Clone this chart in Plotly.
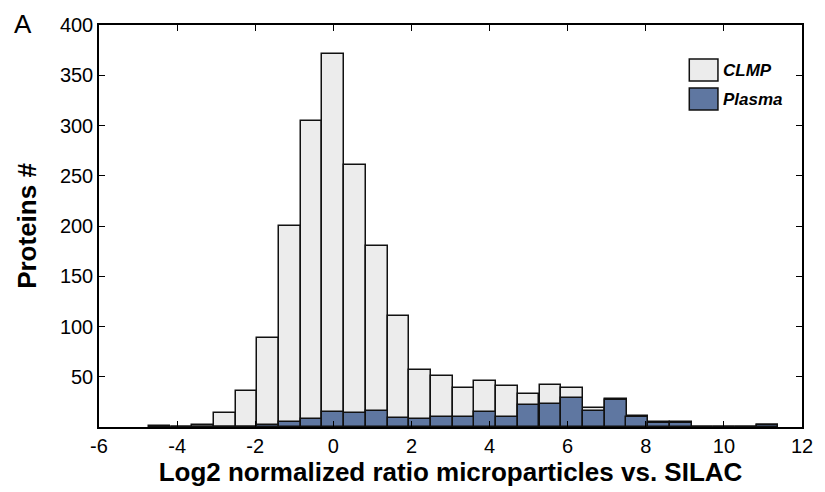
import plotly.graph_objects as go

# Bin centers (log2 ratio) and counts
bin_centers = [-4.45, -3.89, -3.34, -2.78, -2.22, -1.67, -1.11, -0.56, 0.0, 0.56,
               1.11, 1.67, 2.22, 2.78, 3.34, 3.89, 4.45, 5.00, 5.56, 6.11,
               6.67, 7.23, 7.78, 8.34, 8.90, 9.45, 10.01, 10.56, 11.12]
clmp_counts = [1, 0, 2, 14, 36, 89, 200, 304, 371, 261,
               180, 110, 57, 51, 39, 46, 41, 33, 42, 39,
               19, 28, 11, 5, 5, 0, 0, 0, 2]
plasma_counts = [0, 0, 0, 0, 0, 2, 5, 8, 15, 14,
                 16, 9, 8, 10, 10, 15, 10, 22, 23, 29,
                 16, 27, 10, 4, 4, 0, 0, 0, 2]
series_names = ["CLMP", "Plasma"]
x_ticks = [-6, -4, -2, 0, 2, 4, 6, 8, 10, 12]
x_tick_labels = ["-6", "-4", "-2", "0", "2", "4", "6", "8", "10", "12"]
y_ticks = [50, 100, 150, 200, 250, 300, 350, 400]

BIN_W = 0.556
CLMP_FILL = "#ececec"
PLASMA_FILL = "#5f77a1"
EDGE = "#111111"
FONT = "Liberation Sans, Arial, sans-serif"

fig = go.Figure()
fig.add_trace(go.Bar(x=bin_centers, y=clmp_counts, width=BIN_W, name=series_names[0],
                     marker=dict(color=CLMP_FILL, line=dict(color=EDGE, width=1.5)),
                     showlegend=False))
fig.add_trace(go.Bar(x=bin_centers, y=plasma_counts, width=BIN_W, name=series_names[1],
                     marker=dict(color=PLASMA_FILL, line=dict(color=EDGE, width=1.5)),
                     showlegend=False))

axis_common = dict(showline=True, linecolor="black", linewidth=1.5, mirror="ticks",
                   ticks="inside", ticklen=6, tickwidth=1.2, tickcolor="black",
                   showgrid=False, zeroline=False,
                   tickfont=dict(family=FONT, size=20, color="black"))

fig.update_layout(
    width=825, height=492,
    margin=dict(l=99, r=15, t=25, b=65),
    paper_bgcolor="white", plot_bgcolor="white",
    barmode="overlay", bargap=0,
    xaxis=dict(range=[-6, 12], tickvals=x_ticks, ticktext=x_tick_labels,
               title=dict(text="<b>Log2 normalized ratio microparticles vs. SILAC</b>",
                          font=dict(family=FONT, size=26, color="black"), standoff=4),
               **axis_common),
    yaxis=dict(range=[0, 400], tickvals=y_ticks,
               title=dict(text="<b>Proteins #</b>",
                          font=dict(family=FONT, size=26, color="black"), standoff=16),
               **axis_common),
)

# Panel label
fig.add_annotation(text="A", xref="paper", yref="paper", x=-0.124, y=1.045,
                   xanchor="left", yanchor="top", showarrow=False,
                   font=dict(family=FONT, size=26, color="black"))

# Manual legend (large swatches as in the reference)
leg = [(series_names[0], CLMP_FILL, 59, 81), (series_names[1], PLASMA_FILL, 88, 110)]
plot_l, plot_r, plot_t, plot_b = 99, 810, 25, 427
def px_x(p):
    return (p - plot_l) / (plot_r - plot_l)
def px_y(p):
    return (plot_b - p) / (plot_b - plot_t)
for name, col, top, bot in leg:
    fig.add_shape(type="rect", xref="paper", yref="paper",
                  x0=px_x(696), x1=px_x(725), y0=px_y(bot), y1=px_y(top),
                  fillcolor=col, line=dict(color=EDGE, width=1.5))
    fig.add_annotation(text="<b><i>%s</i></b>" % name, xref="paper", yref="paper",
                       x=px_x(728), y=px_y((top + bot) / 2), xanchor="left", yanchor="middle",
                       showarrow=False, font=dict(family=FONT, size=17, color="black"))

fig.write_html("out.html")
